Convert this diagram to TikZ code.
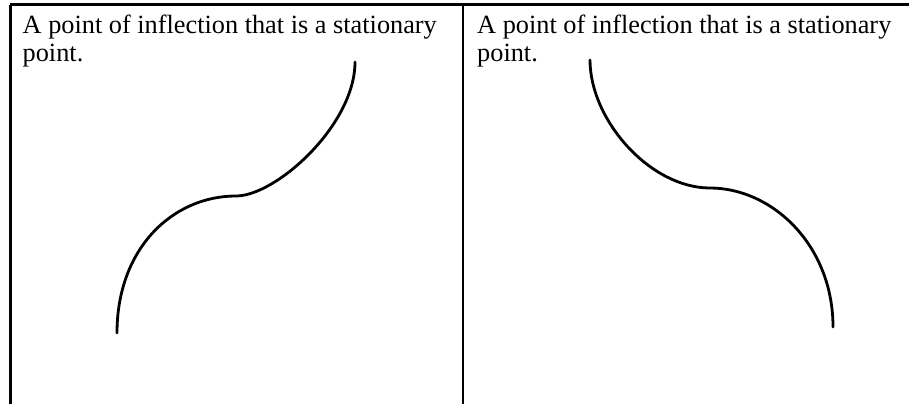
\documentclass[tikz,border=0pt]{standalone}
\usepackage{fontspec}
\setmainfont{Liberation Serif}
\begin{document}
\begin{tikzpicture}[x=1pt,y=-1pt,
  frame/.style={line width=3pt,black},
  curveline/.style={line width=2.8pt,black,line cap=round},
  caption/.style={anchor=base west,inner sep=0pt,
    font=\fontsize{26.3}{28}\selectfont}]
\useasboundingbox (0,0) rectangle (912,406);
% frame
\coordinate (tl) at (10,5);
\coordinate (tr) at (909,5);
\coordinate (bl) at (10,404);
\coordinate (mt) at (463,5);
\coordinate (mb) at (463,404);
\draw[frame] (tl) -- (tr);
\draw[frame] (tl) -- (bl);
\draw[frame,line width=2.6pt] (mt) -- (mb);
% captions
\node[caption] (capLa) at (22.5,33.3) {A point of inflection that is a stationary};
\node[caption] (capLb) at (22.5,61.3) {point.};
\node[caption] (capRa) at (477,33.3) {A point of inflection that is a stationary};
\node[caption] (capRb) at (477,61.3) {point.};
% left curve
\coordinate (L0) at (117,333);
\coordinate (L1) at (236,196);
\coordinate (L2) at (355,62);
\draw[curveline] (L0) .. controls (117,248) and (173,196) .. (L1)
  .. controls (276,196) and (355,125) .. (L2);
% right curve
\coordinate (R0) at (590,60);
\coordinate (R1) at (710,188);
\coordinate (R2) at (833,327);
\draw[curveline] (R0) .. controls (590,120) and (650,188) .. (R1)
  .. controls (772,188) and (833,245) .. (R2);
\end{tikzpicture}
\end{document}
